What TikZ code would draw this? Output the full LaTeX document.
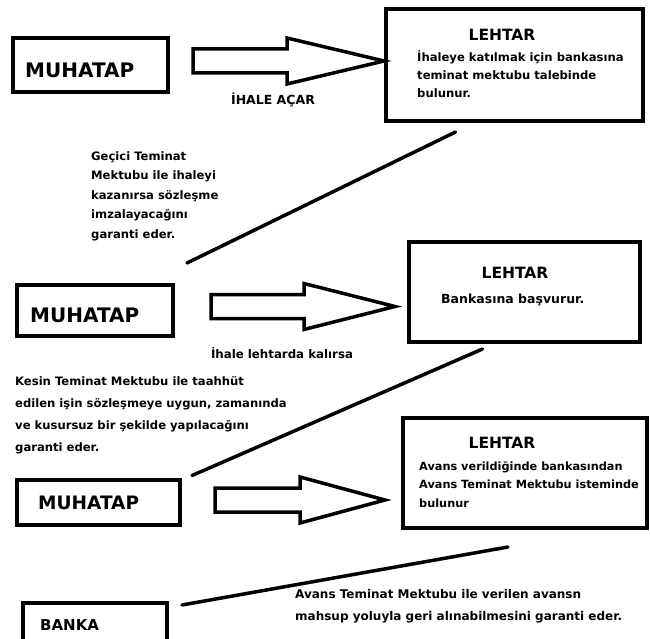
\documentclass[tikz,border=0pt]{standalone}
\usepackage{fontspec}
\setmainfont{DejaVu Sans}
\usetikzlibrary{positioning}

\tikzset{
	kutu/.style={draw, line width=4pt, inner sep=0pt},
	ad/.style={font=\fontsize{20}{24}\selectfont\bfseries, inner sep=0pt, anchor=west},
	baslik/.style={font=\fontsize{15.5}{18}\selectfont\bfseries, inner sep=0pt},
	metin/.style={font=\fontsize{11.6}{18}\selectfont\bfseries, align=left, inner sep=0pt, anchor=north west},
	bag/.style={line width=3.5pt, line cap=round},
	okyolu/.style={draw, line width=3.5pt, fill=white, line join=miter},
	pics/blokok/.style 2 args={code={
		\draw[okyolu] (0,-12)--(#1,-12)--(#1,-23)--(#1+#2,0)--(#1,23)--(#1,12)--(0,12)--cycle;
	}}
}

\begin{document}
\begin{tikzpicture}[x=1pt, y=-1pt, line join=miter]
	\useasboundingbox[fill=white] (0,0) rectangle (650,639);
	% kutular
	\node[kutu, minimum width=155, minimum height=54] (muhatapA) at (90.5,65) {};
	\node[kutu, minimum width=257, minimum height=112] (lehtarA) at (514.5,65) {};
	\node[kutu, minimum width=156, minimum height=51] (muhatapB) at (95,310.5) {};
	\node[kutu, minimum width=231, minimum height=100] (lehtarB) at (524.5,292) {};
	\node[kutu, minimum width=163, minimum height=45] (muhatapC) at (98.5,502) {};
	\node[kutu, minimum width=244, minimum height=110] (lehtarC) at (525,473) {};
	\node[kutu, minimum width=144, minimum height=60] (banka) at (95,633) {};
	% kutu yazilari
	\node[ad] at (25,70) {MUHATAP};
	\node[ad] at (30,315) {MUHATAP};
	\node[ad, font=\fontsize{18.5}{22}\selectfont\bfseries] at (38,503) {MUHATAP};
	\node[ad, font=\fontsize{15}{18}\selectfont\bfseries] at (40,625) {BANKA};
	\node[baslik] at (502,35) {LEHTAR};
	\node[metin] at (417,51) {İhaleye katılmak için bankasına\\teminat mektubu talebinde\\bulunur.};
	\node[baslik] at (515,273) {LEHTAR};
	\node[metin, anchor=west, font=\fontsize{12.5}{18}\selectfont\bfseries] at (441,300) {Bankasına başvurur.};
	\node[baslik] at (502,443) {LEHTAR};
	\node[metin, font=\fontsize{11.3}{18.5}\selectfont\bfseries] at (419,461) {Avans verildiğinde bankasından\\Avans Teminat Mektubu isteminde\\bulunur};
	% oklar
	\pic at ([shift={(23,-4)}]muhatapA.east) {blokok={94}{97}};
	\pic at ([shift={(36,-4)}]muhatapB.east) {blokok={93}{91}};
	\pic at ([shift={(33,-2)}]muhatapC.east) {blokok={85}{85}};
	\node[metin, anchor=center, font=\fontsize{12.5}{15}\selectfont\bfseries] at (273,100) {İHALE AÇAR};
	\node[metin, anchor=center, font=\fontsize{11.8}{15}\selectfont\bfseries] at (282,353) {İhale lehtarda kalırsa};
	% baglar
	\draw[bag] ([shift={(-59,9)}]lehtarA.south) -- ([shift={(12,-20)}]muhatapB.north east);
	\draw[bag] ([shift={(-42,5)}]lehtarB.south) -- ([shift={(10,-2)}]muhatapC.north east);
	\draw[bag] ([shift={(-17,17)}]lehtarC.south) -- ([shift={(13,4)}]banka.north east);
	% aciklamalar
	\node[metin, font=\fontsize{11.6}{19.5}\selectfont\bfseries] at (91,151) {Geçici Teminat\\Mektubu ile ihaleyi\\kazanırsa sözleşme\\imzalayacağını\\garanti eder.};
	\node[metin, font=\fontsize{11.6}{22}\selectfont\bfseries] at (15,376) {Kesin Teminat Mektubu ile taahhüt\\edilen işin sözleşmeye uygun, zamanında\\ve kusursuz bir şekilde yapılacağını\\garanti eder.};
	\node[metin, font=\fontsize{12}{22}\selectfont\bfseries] at (295,589) {Avans Teminat Mektubu ile verilen avansn\\mahsup yoluyla geri alınabilmesini garanti eder.};
\end{tikzpicture}
\end{document}
